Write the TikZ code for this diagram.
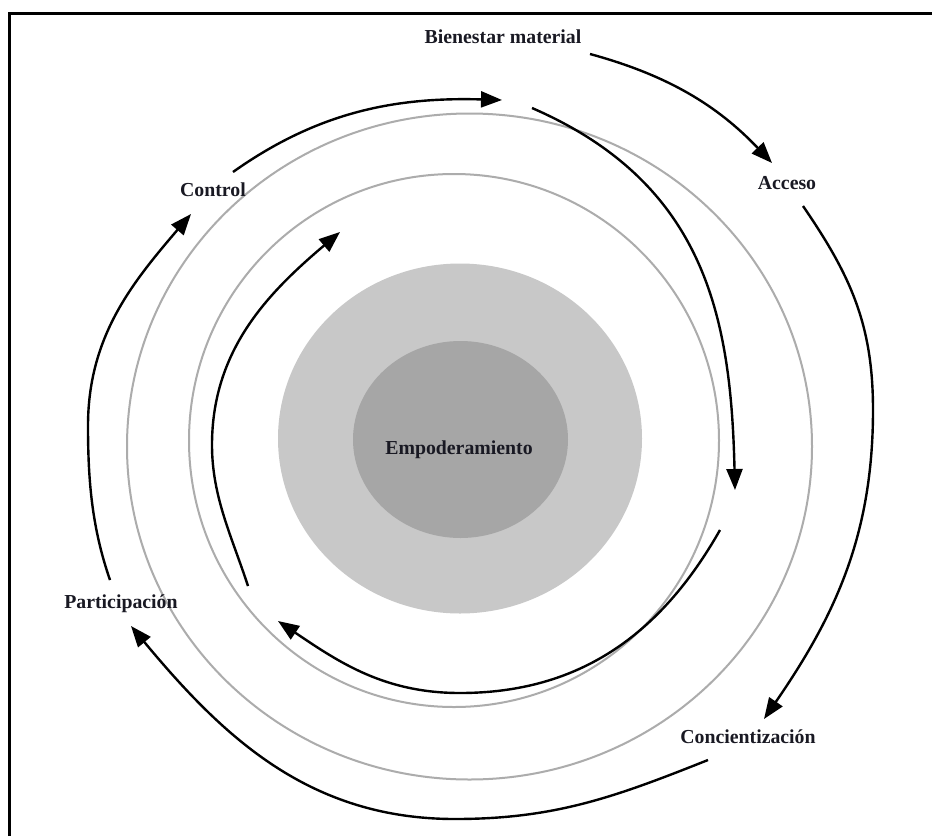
\documentclass[tikz,border=0pt]{standalone}
\usepackage{fontspec}
\setmainfont{Liberation Serif}
\usetikzlibrary{arrows.meta}
\definecolor{lightdisc}{RGB}{200,200,200}
\definecolor{darkdisc}{RGB}{166,166,166}
\definecolor{ringgray}{RGB}{172,172,172}
\definecolor{txt}{RGB}{25,25,35}
\begin{document}
\begin{tikzpicture}[x=1pt,y=-1pt,
  lbl/.style={font=\fontsize{19.8}{24}\selectfont\bfseries, text=txt, anchor=base, inner sep=0pt},
  flow/.style={line width=2.4pt, black, -{Triangle[length=21pt,width=16pt]}},
  ring/.style={draw=ringgray, line width=2pt},
  frame/.style={line width=2.7pt, black}
]
\useasboundingbox (0,0) rectangle (932,836);
\fill[white] (0,0) rectangle (932,836);
% frame
\draw[frame] (9.3,836) -- (9.3,13.3) -- (932,13.3);

% rings and discs
\draw[ring] (469.5,446.5) ellipse [x radius=342.5, y radius=333];
\draw[ring] (454,440.5) ellipse [x radius=265, y radius=266.5];
\fill[lightdisc] (460,438.5) ellipse [x radius=182, y radius=175];
\fill[darkdisc] (460.5,439.5) ellipse [x radius=107.5, y radius=98.5];

% labels
\node[lbl] (emp) at (459,454.3) {Empoderamiento};
\node[lbl] (bien) at (503,43) {Bienestar material};
\node[lbl] (acc) at (787,189) {Acceso};
\node[lbl] (ctrl) at (213,196) {Control};
\node[lbl] (part) at (121,608) {Participación};
\node[lbl] (conc) at (748,743.5) {Concientización};

% arrow end points
\coordinate (a1s) at (590,54);   \coordinate (a1e) at (772,163);
\coordinate (a2s) at (803,206);  \coordinate (a2m) at (873,410);  \coordinate (a2e) at (764,719);
\coordinate (a3s) at (708,760);  \coordinate (a3m) at (455,819);  \coordinate (a3e) at (131,626);
\coordinate (a4s) at (110,580);  \coordinate (a4m) at (88,426);   \coordinate (a4e) at (191,214);
\coordinate (a5s) at (233,172);  \coordinate (a5e) at (502,100);
\coordinate (a6s) at (532,108);  \coordinate (a6e) at (735,490);
\coordinate (a7s) at (720,530);  \coordinate (a7m) at (460,693);  \coordinate (a7e) at (278,621);
\coordinate (a8s) at (248,586);  \coordinate (a8m) at (212,445);  \coordinate (a8e) at (340,232);

% outer cycle
\draw[flow] (a1s) .. controls (667,75) and (717,105) .. (a1e);
\draw[flow] (a2s) .. controls (851,276) and (873,325) .. (a2m)
                  .. controls (873,535) and (835,616) .. (a2e);
\draw[flow] (a3s) .. controls (615,797) and (555,819) .. (a3m)
                  .. controls (310,819) and (224,738) .. (a3e);
\draw[flow] (a4s) .. controls (92,528) and (88,481) .. (a4m)
                  .. controls (88,336) and (133,282) .. (a4e);
\draw[flow] (a5s) .. controls (319,111) and (397,97) .. (a5e);

% inner cycle
\draw[flow] (a6s) .. controls (707,184) and (731,320) .. (a6e);
\draw[flow] (a7s) .. controls (661,634) and (580,693) .. (a7m)
                  .. controls (385,693) and (340,663) .. (a7e);
\draw[flow] (a8s) .. controls (232,537) and (212,497) .. (a8m)
                  .. controls (212,350) and (268,293) .. (a8e);
\end{tikzpicture}
\end{document}
